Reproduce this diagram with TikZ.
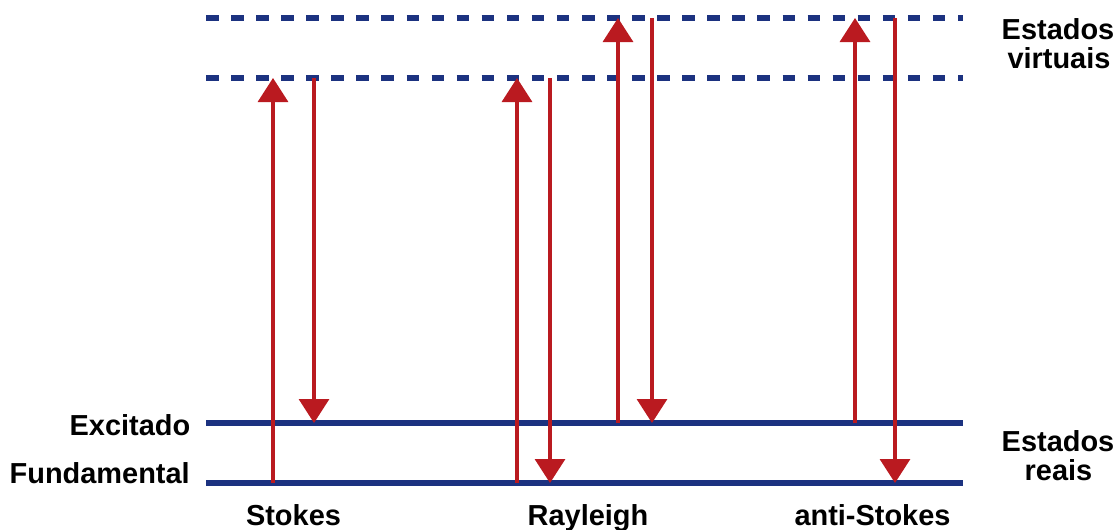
\documentclass[tikz,border=0pt]{standalone}
\usepackage{fontspec}
\setmainfont{Liberation Sans}
\usetikzlibrary{arrows.meta}
\definecolor{levelblue}{HTML}{1C3280}
\definecolor{photonred}{HTML}{BA1A20}
\tikzset{
  virtual/.style={levelblue, line width=4.5pt, dash pattern=on 9.4pt off 9.4pt},
  real/.style={levelblue, line width=4.5pt},
  photon/.style={photonred, line width=2.4pt, -{Triangle[width=22.5pt,length=18pt]}},
  lbl/.style={font=\bfseries\fontsize{21.7}{25}\selectfont, inner sep=0pt, anchor=base}
}
\begin{document}
\begin{tikzpicture}[x=0.75pt,y=-0.75pt]
\useasboundingbox (0,0) rectangle (1118,529);
% energy levels
\coordinate (v2L) at (206,18);  \coordinate (v2R) at (963,18);
\coordinate (v1L) at (206,78);  \coordinate (v1R) at (963,78);
\coordinate (eL) at (206,423);  \coordinate (eR) at (963,423);
\coordinate (gL) at (206,483);  \coordinate (gR) at (963,483);
\draw[virtual] (v2L) -- (v2R);
\draw[virtual] (v1L) -- (v1R);
\draw[real] (eL) -- (eR);
\draw[real] (gL) -- (gR);
% Stokes
\coordinate (s1a) at (273,483); \coordinate (s1b) at (273,78);
\coordinate (s2a) at (314,78);  \coordinate (s2b) at (314,423);
\draw[photon] (s1a) -- (s1b);
\draw[photon] (s2a) -- (s2b);
% Rayleigh
\coordinate (r1a) at (517,483); \coordinate (r1b) at (517,78);
\coordinate (r2a) at (550,78);  \coordinate (r2b) at (550,483);
\coordinate (r3a) at (618,423); \coordinate (r3b) at (618,18);
\coordinate (r4a) at (652,18);  \coordinate (r4b) at (652,423);
\draw[photon] (r1a) -- (r1b);
\draw[photon] (r2a) -- (r2b);
\draw[photon] (r3a) -- (r3b);
\draw[photon] (r4a) -- (r4b);
% anti-Stokes
\coordinate (a1a) at (855,423); \coordinate (a1b) at (855,18);
\coordinate (a2a) at (895,18);  \coordinate (a2b) at (895,483);
\draw[photon] (a1a) -- (a1b);
\draw[photon] (a2a) -- (a2b);
% labels
\node[lbl] (virt1) at (1058,39.5) {Estados};
\node[lbl] (virt2) at (1059,68.5) {virtuais};
\node[lbl] (reais1) at (1058,451) {Estados};
\node[lbl] (reais2) at (1058.5,480) {reais};
\node[lbl, anchor=base east] (exc) at (190.5,435) {Excitado};
\node[lbl, anchor=base east] (fund) at (190,483) {Fundamental};
\node[lbl] (stk) at (293.5,525) {Stokes};
\node[lbl] (ray) at (588,525) {Rayleigh};
\node[lbl] (ast) at (872.5,525) {anti-Stokes};
\end{tikzpicture}
\end{document}
